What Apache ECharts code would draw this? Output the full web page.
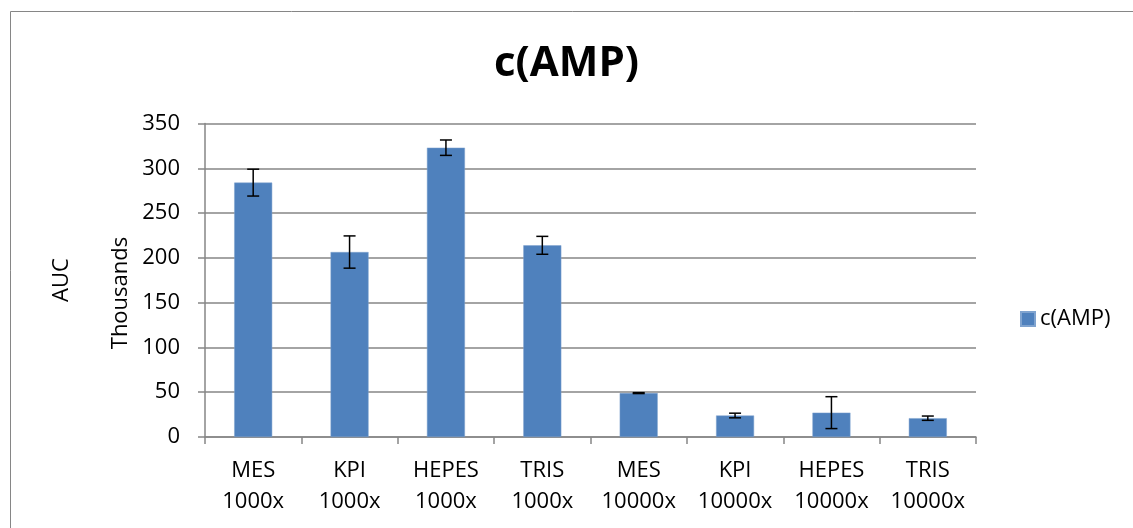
<!DOCTYPE html>
<html>
<head>
<meta charset="utf-8">
<script src="https://cdn.jsdelivr.net/npm/echarts@6/dist/echarts.min.js"></script>
<style>
html,body{margin:0;padding:0;background:#fff;}
#c{width:1133px;height:528px;}
</style>
</head>
<body>
<div id="c"></div>
<script>
var categories = ['MES\n1000x','KPI\n1000x','HEPES\n1000x','TRIS\n1000x','MES\n10000x','KPI\n10000x','HEPES\n10000x','TRIS\n10000x'];
var values = [284, 206.5, 323, 214, 49, 24, 27.2, 21];
var errors = [15, 18, 8.6, 10, 0.5, 2.6, 17.8, 2.4];
var yTicks = [0, 50, 100, 150, 200, 250, 300, 350];
var seriesName = 'c(AMP)';

var FONT = 'Open Sans';
var chart = echarts.init(document.getElementById('c'), null, {renderer:'canvas'});
var errData = values.map(function(v,i){ return [i, v - errors[i], v + errors[i]]; });

chart.setOption({
  animation:false,
  backgroundColor:'#fff',
  textStyle:{fontFamily:FONT},
  title:{
    text:'c(AMP)', left:'center', top:38,
    textStyle:{fontFamily:FONT, fontWeight:'bold', fontSize:42, color:'#000'}
  },
  legend:{
    left:1015, top:303, itemWidth:14, itemHeight:14, itemGap:10,
    data:[{name:seriesName, icon:'rect'}],
    textStyle:{fontFamily:FONT, fontSize:22, color:'#000'}
  },
  grid:{left:205, right:157, top:123.5, bottom:91, containLabel:false},
  xAxis:{
    type:'category', data:categories,
    axisLine:{lineStyle:{color:'#868686', width:1.5}},
    axisTick:{show:true, length:7, alignWithLabel:false, lineStyle:{color:'#868686', width:1.5}},
    axisLabel:{fontFamily:FONT, fontSize:22, color:'#000', lineHeight:31, margin:18, interval:0}
  },
  yAxis:{
    type:'value', min:yTicks[0], max:yTicks[yTicks.length-1], interval:50,
    axisLine:{show:true, lineStyle:{color:'#868686', width:1.5}},
    axisTick:{show:true, length:7, lineStyle:{color:'#868686', width:1.5}},
    splitLine:{lineStyle:{color:'#868686', width:1.5}},
    axisLabel:{fontFamily:FONT, fontSize:22, color:'#000', margin:25}
  },
  graphic:[
    {type:'rect', shape:{x:10.5, y:11.5, width:1200, height:600}, style:{fill:'none', stroke:'#868686', lineWidth:1}, silent:true, z:-10},
    {type:'text', x:61.5, y:280, rotation:Math.PI/2, style:{text:'AUC', fontFamily:FONT, fontSize:22, fill:'#000', textAlign:'center', textVerticalAlign:'middle'}},
    {type:'text', x:121, y:293, rotation:Math.PI/2, style:{text:'Thousands', fontFamily:FONT, fontSize:22, fill:'#000', textAlign:'center', textVerticalAlign:'middle'}}
  ],
  series:[
    {
      name:seriesName, type:'bar', data:values, barWidth:38,
      itemStyle:{color:'#4F81BD', borderColor:'#7FA3CF', borderWidth:0.5}
    },
    {
      type:'custom', name:'err', data:errData, z:5,
      renderItem:function(params, api){
        var x = api.value(0);
        var lo = api.coord([x, api.value(1)]);
        var hi = api.coord([x, api.value(2)]);
        var hw = 6;
        var st = {stroke:'#000', lineWidth:1.5};
        return {type:'group', children:[
          {type:'line', shape:{x1:hi[0], y1:hi[1], x2:lo[0], y2:lo[1]}, style:st},
          {type:'line', shape:{x1:hi[0]-hw, y1:hi[1], x2:hi[0]+hw, y2:hi[1]}, style:st},
          {type:'line', shape:{x1:lo[0]-hw, y1:lo[1], x2:lo[0]+hw, y2:lo[1]}, style:st}
        ]};
      }
    }
  ]
});
</script>
</body>
</html>
